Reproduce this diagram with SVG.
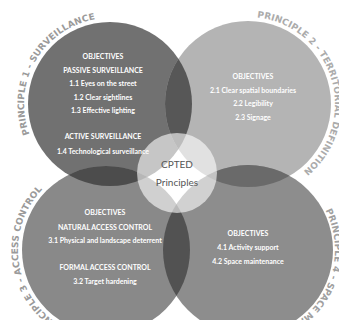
<svg xmlns="http://www.w3.org/2000/svg" width="339" height="320" viewBox="0 0 339 320">
<style>
.obj{font-family:Lato,"Noto Sans",sans-serif;font-size:7px;font-weight:700;fill:#ffffff;text-anchor:middle}
.arc{font-family:"DejaVu Sans",Lato,sans-serif;font-size:9px;font-weight:700;letter-spacing:0.1px}
.ctr{font-family:Lato,"Noto Sans",sans-serif;font-size:10px;fill:#555555;text-anchor:middle}
</style>
<defs>
<clipPath id="k1"><circle cx="110" cy="104" r="82"/></clipPath>
<clipPath id="k2"><circle cx="248" cy="104" r="83"/></clipPath>
<clipPath id="k3"><circle cx="106" cy="250" r="84"/></clipPath>
<path id="a1" d="M110,190 A86,86 0 1 1 110,18 A86,86 0 1 1 110,190"/>
<path id="a2" d="M248,191 A87,87 0 1 1 248,17 A87,87 0 1 1 248,191"/>
<path id="a3" d="M106,338 A88,88 0 1 1 106,162 A88,88 0 1 1 106,338"/>
<path id="a4" d="M248,337 A87,87 0 1 1 248,163 A87,87 0 1 1 248,337"/>
</defs>
<rect width="339" height="320" fill="#ffffff"/>
<g id="p1-shape"><circle cx="110" cy="104" r="82" fill="#717171"/></g>
<g id="p2-shape"><circle cx="248" cy="104" r="83" fill="#b4b4b4"/></g>
<g id="p3-shape"><circle cx="106" cy="250" r="84" fill="#898989"/></g>
<g id="p4-shape"><circle cx="248" cy="250" r="85" fill="#8d8d8d"/></g>
<g id="overlaps">
<circle cx="248" cy="104" r="83" fill="#575757" clip-path="url(#k1)"/>
<circle cx="106" cy="250" r="84" fill="#4c4c4c" clip-path="url(#k1)"/>
<circle cx="248" cy="250" r="85" fill="#6a6a6a" clip-path="url(#k2)"/>
<circle cx="248" cy="250" r="85" fill="#525252" clip-path="url(#k3)"/>
</g>
<g id="connectors"/>
<g id="center">
<circle cx="177" cy="173" r="40" fill="#ffffff" fill-opacity="0.6"/>
<text class="ctr" x="177" y="168">CPTED</text>
<text class="ctr" x="177" y="186">Principles</text>
</g>
<g id="p1">
<text class="arc" fill="#9a9a9a"><textPath href="#a1" startOffset="104">PRINCIPLE 1 - SURVEILLANCE</textPath></text>
<text class="obj" x="103" y="59">OBJECTIVES</text>
<text class="obj" x="103" y="73">PASSIVE SURVEILLANCE</text>
<text class="obj" x="103" y="86">1.1 Eyes on the street</text>
<text class="obj" x="103" y="100">1.2 Clear sightlines</text>
<text class="obj" x="103" y="113">1.3 Effective lighting</text>
<text class="obj" x="103" y="139">ACTIVE SURVEILLANCE</text>
<text class="obj" x="103" y="154">1.4 Technological surveillance</text>
</g>
<g id="p2">
<text class="arc" fill="#ababab" letter-spacing="0.3"><textPath href="#a2" startOffset="282">PRINCIPLE 2 - TERRITORIAL DEFINITION</textPath></text>
<text class="obj" x="253" y="79">OBJECTIVES</text>
<text class="obj" x="253" y="93">2.1 Clear spatial boundaries</text>
<text class="obj" x="253" y="106">2.2 Legibility</text>
<text class="obj" x="253" y="120">2.3 Signage</text>
</g>
<g id="p3">
<text class="arc" fill="#9a9a9a" text-anchor="end" letter-spacing="0.3"><textPath href="#a3" startOffset="205">PRINCIPLE 3 - ACCESS CONTROL</textPath></text>
<text class="obj" x="105" y="215">OBJECTIVES</text>
<text class="obj" x="105" y="230">NATURAL ACCESS CONTROL</text>
<text class="obj" x="105" y="243">3.1 Physical and landscape deterrent</text>
<text class="obj" x="105" y="270">FORMAL ACCESS CONTROL</text>
<text class="obj" x="105" y="284">3.2 Target hardening</text>
</g>
<g id="p4">
<text class="arc" fill="#a0a0a0" letter-spacing="0.5"><textPath href="#a4" startOffset="368">PRINCIPLE 4 - SPACE MA</textPath></text>
<text class="obj" x="248" y="236">OBJECTIVES</text>
<text class="obj" x="248" y="250">4.1 Activity support</text>
<text class="obj" x="248" y="264">4.2 Space maintenance</text>
</g>
</svg>
